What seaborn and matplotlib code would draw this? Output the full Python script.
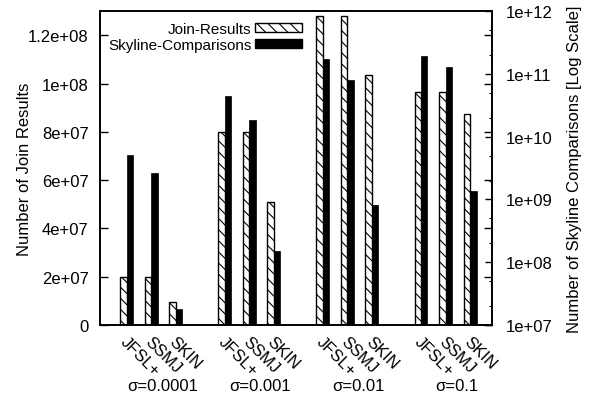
import pandas as pd
import matplotlib
matplotlib.use('Agg')
import matplotlib.pyplot as plt
import matplotlib.ticker as mticker
import matplotlib.transforms as mtransforms
from matplotlib.patches import Patch
import seaborn as sns

# data
methods = ['JFSL+', 'SSMJ', 'SKIN']
sigmas = ['σ=0.0001', 'σ=0.001', 'σ=0.01', 'σ=0.1']

join_results = [2.0e7, 2.0e7, 9.6e6,
                8.0e7, 8.0e7, 5.1e7,
                1.28e8, 1.28e8, 1.035e8,
                9.65e7, 9.65e7, 8.75e7]
skyline_comparisons = [5.1e9, 2.65e9, 1.8e7,
                       4.4e10, 1.85e10, 1.5e8,
                       1.7e11, 7.9e10, 8.2e8,
                       1.95e11, 1.28e11, 1.35e9]

left_ticks = [0, 2e7, 4e7, 6e7, 8e7, 1e8, 1.2e8]
right_ticks = [1e7, 1e8, 1e9, 1e10, 1e11, 1e12]

sns.set_style('ticks')
plt.rcParams['font.family'] = ['Liberation Sans', 'DejaVu Sans']
plt.rcParams['hatch.linewidth'] = 0.8
for key in ('text.color', 'axes.labelcolor', 'xtick.color', 'ytick.color', 'axes.edgecolor'):
    plt.rcParams[key] = 'black'

# one slot per method, one empty slot between sigma groups
rows = []
for g, sigma in enumerate(sigmas):
    for m, method in enumerate(methods):
        rows.append({'sigma': sigma, 'method': method, 'slot': g * 4 + m})
df = pd.DataFrame(rows)
df['join'] = join_results
df['skyline'] = skyline_comparisons

bar_w = 0.265
hatch = '\\\\\\'

fig, ax = plt.subplots(figsize=(5.95, 4.02), dpi=100)
fig.subplots_adjust(left=0.168, right=0.827, top=0.970, bottom=0.189)
ax2 = ax.twinx()

sns.barplot(x=df['slot'] - bar_w / 2, y=df['join'], native_scale=True, width=bar_w,
            color='white', edgecolor='black', linewidth=1, hatch=hatch,
            saturation=1, errorbar=None, ax=ax)
sns.barplot(x=df['slot'] + bar_w / 2, y=df['skyline'], native_scale=True, width=bar_w,
            color='black', edgecolor='black', linewidth=0.5,
            saturation=1, errorbar=None, ax=ax2)

ax2.set_yscale('log')
ax2.set_ylim(1e7, 1e12)
ax.set_ylim(0, 1.3e8)
ax.set_xlim(-1.1, 14.9)

# left axis
ax.set_yticks(left_ticks)
ax.yaxis.set_major_formatter(mticker.FuncFormatter(lambda v, p: '%g' % v))
ax.tick_params(axis='y', direction='in', length=6, width=1, right=True,
               labelright=False, pad=8, labelsize=12)
ax.set_ylabel('Number of Join Results', fontsize=12)
ax.yaxis.set_label_coords(-0.174, 0.5)

# right axis (log)
ax2.yaxis.set_major_locator(mticker.FixedLocator(right_ticks))
ax2.yaxis.set_major_formatter(mticker.FuncFormatter(lambda v, p: '%.0e' % v))
ax2.yaxis.set_minor_locator(mticker.LogLocator(base=10, subs=(2, 5)))
ax2.yaxis.set_minor_formatter(mticker.NullFormatter())
ax2.tick_params(axis='y', which='major', direction='in', length=5, width=1, pad=10, labelsize=12)
ax2.tick_params(axis='y', which='minor', direction='in', length=2.5, width=0.8)
ax2.set_ylabel('Number of Skyline Comparisons [Log Scale]', fontsize=12)
ax2.yaxis.set_label_coords(1.19, 0.5)

# x axis: method labels rotated, sigma labels below
ax.set_xticks(df['slot'])
ax.set_xticklabels(df['method'], rotation=-45, ha='left', va='center',
                   rotation_mode='anchor', fontsize=12)
ax.tick_params(axis='x', length=0, pad=10)
shift = mtransforms.ScaledTranslation(-4 / 100, 0, fig.dpi_scale_trans)
for lab in ax.get_xticklabels():
    lab.set_transform(lab.get_transform() + shift)
ax.set_xlabel('')
ax2.set_xlabel('')

trans = mtransforms.blended_transform_factory(ax.transData, ax.transAxes)
for g, sigma in enumerate(sigmas):
    ax.text(g * 4 + 1 + 0.45, -0.194, sigma, transform=trans,
            ha='center', va='center', fontsize=12)

for a in (ax, ax2):
    for s in a.spines.values():
        s.set_linewidth(1.2)
        s.set_color('black')

handles = [Patch(facecolor='white', edgecolor='black', hatch=hatch, label='Join-Results'),
           Patch(facecolor='black', edgecolor='black', label='Skyline-Comparisons')]
ax2.legend(handles=handles, loc='upper right', bbox_to_anchor=(0.515, 0.965),
           markerfirst=False, frameon=False, fontsize=11, handlelength=3.1,
           handleheight=0.55, handletextpad=0.2, labelspacing=0.1,
           borderpad=0, borderaxespad=0)

fig.savefig('out.png', dpi=100)
